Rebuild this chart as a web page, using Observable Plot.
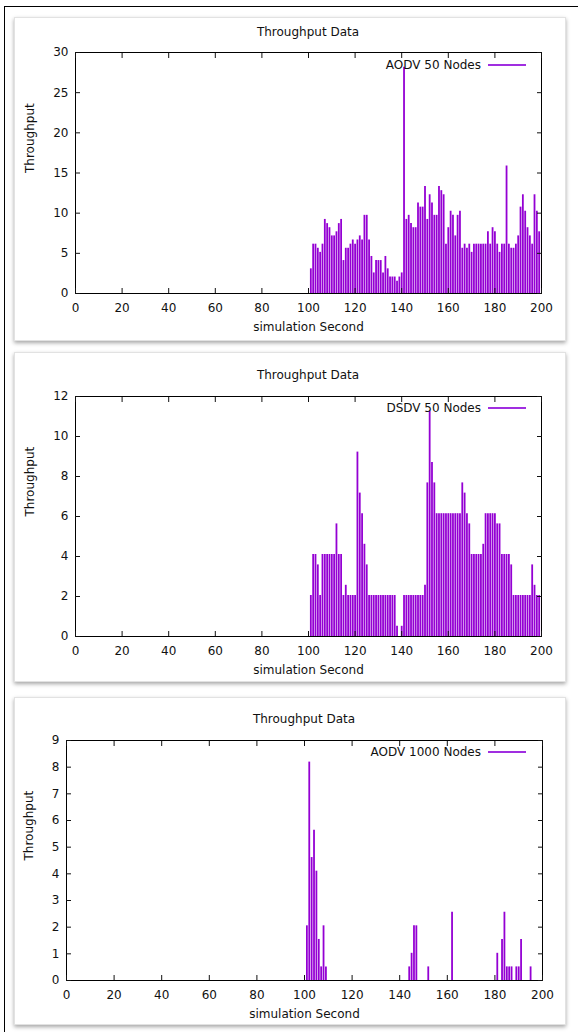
<!DOCTYPE html>
<html>
<head>
<meta charset="utf-8">
<script src="https://cdn.jsdelivr.net/npm/d3@7"></script>
<script src="https://cdn.jsdelivr.net/npm/@observablehq/plot@0.6"></script>
<style>
  html, body { margin: 0; padding: 0; background: #fff; }
  body { width: 578px; height: 1032px; overflow: hidden; position: relative; font-family: "DejaVu Sans", sans-serif; color: #111; }
  #outer { position: absolute; left: 4px; top: 6px; width: 700px; height: 1100px; border-left: 1px solid #000; border-top: 1px solid #000; }
  .card { position: absolute; left: 14px; width: 552px; box-sizing: border-box; border: 1px solid #e2e2e2; background: #fff; box-shadow: 0 2px 4px rgba(0,0,0,0.35); }
  .card svg { position: absolute; left: 0; top: 0; }
  .title { position: absolute; height: 16px; line-height: 16px; font-size: 12px; text-align: center; white-space: nowrap; }
  .legend { position: absolute; left: 0; width: 466px; height: 16px; line-height: 16px; font-size: 12px; text-align: right; white-space: nowrap; }
  .legline { position: absolute; left: 473px; width: 38px; height: 2px; background: #a02ee0; }
</style>
</head>
<body>
<div id="outer"></div>
<div id="charts"></div>
<script>
// ---- data ----
const chartTitle = "Throughput Data";
const xLabel = "simulation Second";
const yLabel = "Throughput";
const xTicks = [0, 20, 40, 60, 80, 100, 120, 140, 160, 180, 200];
const yTicksA = [0, 5, 10, 15, 20, 25, 30];
const yTicksB = [0, 2, 4, 6, 8, 10, 12];
const yTicksC = [0, 1, 2, 3, 4, 5, 6, 7, 8, 9];

const seconds50 = [101,102,103,104,105,106,107,108,109,110,111,112,113,114,115,116,117,118,119,120,
  121,122,123,124,125,126,127,128,129,130,131,132,133,134,135,136,137,138,139,140,
  141,142,143,144,145,146,147,148,149,150,151,152,153,154,155,156,157,158,159,160,
  161,162,163,164,165,166,167,168,169,170,171,172,173,174,175,176,177,178,179,180,
  181,182,183,184,185,186,187,188,189,190,191,192,193,194,195,196,197,198,199];

const aodv50 = [3.07,6.14,6.14,5.63,5.12,6.14,9.22,8.70,8.19,7.17,7.17,7.68,8.70,9.22,4.10,5.63,5.63,6.14,6.66,6.14,
  6.66,7.17,6.66,9.73,9.73,6.66,4.61,2.56,4.10,4.10,4.10,2.56,4.61,3.07,2.05,2.05,2.05,1.54,2.05,2.56,
  28.16,9.22,9.73,8.70,8.19,8.19,11.26,10.75,10.75,13.31,9.22,12.29,11.26,9.73,9.73,13.31,12.80,12.29,6.14,8.19,
  10.24,9.73,7.17,9.73,10.24,5.63,6.14,5.63,6.14,5.12,6.14,6.14,6.14,6.14,6.14,6.14,7.68,6.14,8.19,7.68,
  6.14,5.12,6.14,6.14,15.87,6.14,5.63,5.63,6.14,7.17,10.75,12.29,10.24,8.19,7.17,6.14,12.29,10.24,7.68];

const dsdv50 = [2.05,4.10,4.10,3.58,2.05,4.10,4.10,4.10,4.10,4.10,4.10,5.63,4.10,4.10,2.05,2.56,2.05,2.05,2.05,2.05,
  9.22,7.17,6.14,4.61,3.58,2.05,2.05,2.05,2.05,2.05,2.05,2.05,2.05,2.05,2.05,2.05,2.05,0.51,0,0.51,
  2.05,2.05,2.05,2.05,2.05,2.05,2.05,2.05,2.05,2.56,7.68,11.26,8.70,7.68,6.14,6.14,6.14,6.14,6.14,6.14,
  6.14,6.14,6.14,6.14,6.14,7.68,7.17,6.14,5.63,4.10,4.10,4.10,4.10,4.10,4.61,6.14,6.14,6.14,6.14,6.14,
  5.63,5.63,4.10,4.10,4.10,4.10,3.58,2.05,2.05,2.05,2.05,2.05,2.05,2.05,2.05,3.58,2.56,2.05,2.05];

const seconds1000 = [101,102,103,104,105,106,107,108,109,144,145,146,147,152,162,181,183,184,185,186,187,189,190,191,195];
const aodv1000 = [2.05,8.19,4.61,5.63,4.10,1.54,0.51,2.05,0.51,0.51,1.02,2.05,2.05,0.51,2.56,1.02,1.54,2.56,0.51,0.51,0.51,0.51,0.51,1.54,0.51];

const panels = [
  {series: "AODV 50 Nodes", seconds: seconds50, values: aodv50, yTicks: yTicksA, yMax: 30,
   top: 17, cardH: 324, mt: 34, mb: 47, ml: 60, mr: 24, titleY: 13.5, legendY: 47, ylDx: -45},
  {series: "DSDV 50 Nodes", seconds: seconds50, values: dsdv50, yTicks: yTicksB, yMax: 12,
   top: 352, cardH: 330, mt: 43, mb: 45, ml: 60, mr: 24, titleY: 22, legendY: 55, ylDx: -45},
  {series: "AODV 1000 Nodes", seconds: seconds1000, values: aodv1000, yTicks: yTicksC, yMax: 9,
   top: 697, cardH: 328, mt: 42, mb: 44, ml: 51, mr: 23, titleY: 21, legendY: 54, ylDx: -37}
];

const purple = "#9400d3";
const root = document.getElementById("charts");

for (const p of panels) {
  const card = document.createElement("div");
  card.className = "card";
  card.style.top = p.top + "px";
  card.style.height = p.cardH + "px";
  root.appendChild(card);

  const W = 550, H = p.cardH - 2;
  const rows = p.seconds.map((s, i) => ({second: s, value: p.values[i]}));

  const svg = Plot.plot({
    width: W, height: H,
    marginLeft: p.ml, marginRight: p.mr, marginTop: p.mt, marginBottom: p.mb,
    style: {fontFamily: "DejaVu Sans", fontSize: "12px", color: "#111", background: "transparent", overflow: "visible"},
    x: {domain: [0, 200]},
    y: {domain: [0, p.yMax]},
    marks: [
      Plot.ruleX(rows, {x: "second", y1: 0, y2: "value", stroke: purple, strokeWidth: 1.8}),
      Plot.frame({stroke: "#000", strokeWidth: 1}),
      Plot.axisX(xTicks, {anchor: "bottom", tickSize: 0, tickPadding: 10, label: null, tickFormat: d => String(d)}),
      Plot.axisX(xTicks, {anchor: "bottom", tickSize: 5, dy: -5, fill: "none", label: null}),
      Plot.axisX(xTicks, {anchor: "top", tickSize: 5, dy: 5, fill: "none", label: null}),
      Plot.axisY(p.yTicks, {anchor: "left", tickSize: 0, tickPadding: 7, label: null, tickFormat: d => String(d)}),
      Plot.axisY(p.yTicks, {anchor: "left", tickSize: 5, dx: 5, fill: "none", label: null}),
      Plot.axisY(p.yTicks, {anchor: "right", tickSize: 5, dx: -5, fill: "none", label: null}),
      Plot.text([xLabel], {text: d => d, frameAnchor: "bottom", dy: 34, lineAnchor: "middle", fontSize: 12}),
      Plot.text([yLabel], {text: d => d, frameAnchor: "left", dx: p.ylDx, rotate: -90, lineAnchor: "middle", fontSize: 12})
    ]
  });
  card.appendChild(svg);

  const title = document.createElement("div");
  title.className = "title";
  title.textContent = chartTitle;
  title.style.left = p.ml + "px";
  title.style.width = (W - p.ml - p.mr) + "px";
  title.style.top = (p.titleY - 8) + "px";
  card.appendChild(title);

  const leg = document.createElement("div");
  leg.className = "legend";
  leg.textContent = p.series;
  leg.style.top = (p.legendY - 8) + "px";
  card.appendChild(leg);

  const line = document.createElement("div");
  line.className = "legline";
  line.style.top = (p.legendY - 1) + "px";
  card.appendChild(line);
}
</script>
</body>
</html>
